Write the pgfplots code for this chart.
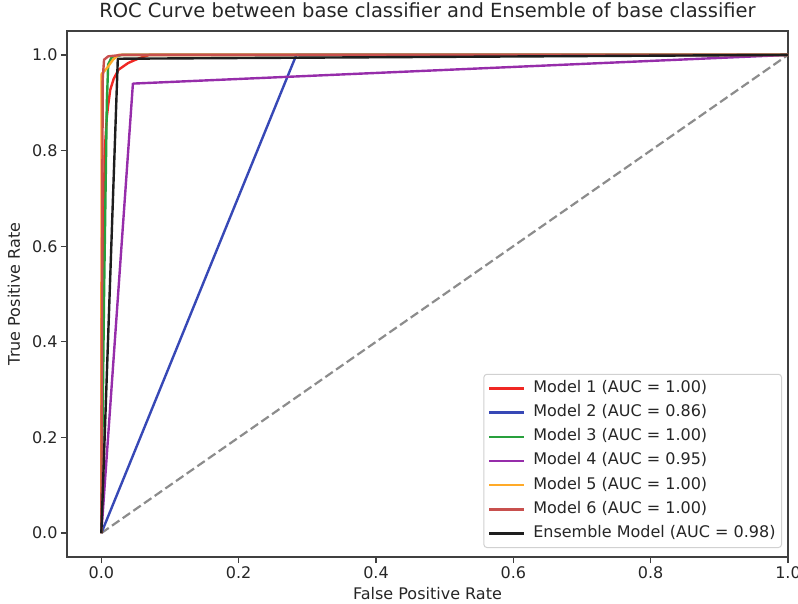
\documentclass[border=0pt]{standalone}
\usepackage{fontspec}
\setmainfont{DejaVu Sans}
\usepackage{pgfplots}
\pgfplotsset{compat=1.18}

\definecolor{mone}{RGB}{240,40,35}
\definecolor{mtwo}{RGB}{55,72,182}
\definecolor{mthree}{RGB}{40,160,60}
\definecolor{mfour}{RGB}{150,45,170}
\definecolor{mfive}{RGB}{255,170,40}
\definecolor{msix}{RGB}{200,80,78}
\definecolor{mens}{RGB}{30,30,30}

\begin{document}
\begin{tikzpicture}
\begin{axis}[
  scale only axis, width=721pt, height=526pt,
  xmin=-0.05, xmax=1.0, ymin=-0.05, ymax=1.05,
  xtick={0,0.2,0.4,0.6,0.8,1}, ytick={0,0.2,0.4,0.6,0.8,1},
  /pgf/number format/fixed, /pgf/number format/fixed zerofill,
  /pgf/number format/precision=1, /pgf/number format/assume math mode=true,
  tick align=outside, tick pos=left, major tick length=6pt,
  tick style={line width=1.3pt, color=black!75},
  axis line style={line width=1.5pt, black!75},
  tick label style={font=\fontsize{16}{19}\selectfont, text=black!85},
  title={ROC Curve between base classifier and Ensemble of base classifier},
  title style={font=\fontsize{19.5}{23}\selectfont, at={(axis description cs:0.5,1.0152)}, anchor=base, text=black!85},
  xlabel={False Positive Rate},
  ylabel={True Positive Rate},
  xlabel style={font=\fontsize{16}{19}\selectfont, at={(axis description cs:0.5,-0.0817)}, anchor=base, text=black!85},
  ylabel style={font=\fontsize{16}{19}\selectfont, at={(axis description cs:-0.0652,0.5)}, anchor=base, text=black!85},
  legend cell align=left,
  legend image code/.code={\draw[#1] (0pt,0pt) -- (35pt,0pt);},
  legend style={at={(axis description cs:1,0)}, anchor=south east, xshift=-6pt, yshift=9pt,
    draw=black!18, rounded corners=3pt, fill=white, line width=1pt,
    font=\fontsize{16}{19}\selectfont, text=black!85, inner xsep=4pt, inner ysep=4pt,
    row sep=4.2pt, nodes={text height=12pt, text depth=4pt, inner sep=2pt},
    /tikz/every odd column/.append style={column sep=6pt}},
  every axis plot/.append style={line width=2.4pt, line join=round},
]
% chance line
\addplot[forget plot, color=black!45, line width=2.2pt, dash pattern=on 9pt off 4pt] coordinates {(0,0) (1,1)};

\addplot[mone] coordinates {(0,0) (0.002,0.5) (0.005,0.8) (0.008,0.87) (0.010,0.895) (0.013,0.927) (0.018,0.95) (0.025,0.969) (0.039,0.983) (0.050,0.99) (0.061,0.996) (0.07,1.0) (1,1)};
\addlegendentry{Model 1 (AUC = 1.00)}
\addplot[mtwo] coordinates {(0,0) (0.284,1.0) (1,1)};
\addlegendentry{Model 2 (AUC = 0.86)}
\addplot[mthree] coordinates {(0,0) (0.004,0.5) (0.008,0.9) (0.010,0.98) (0.015,0.995) (0.03,1.0) (1,1)};
\addlegendentry{Model 3 (AUC = 1.00)}
\addplot[mfour] coordinates {(0,0) (0.046,0.94) (1,1)};
\addlegendentry{Model 4 (AUC = 0.95)}
\addplot[mfive] coordinates {(0,0) (0,0.3) (0.0005,0.96) (0.008,0.972) (0.017,0.99) (0.025,1.0) (1,1)};
\addlegendentry{Model 5 (AUC = 1.00)}
\addplot[msix] coordinates {(0,0) (0.001,0.5) (0.002,0.95) (0.004,0.99) (0.01,0.997) (0.03,1.0) (1,1)};
\addlegendentry{Model 6 (AUC = 1.00)}
\addplot[mens] coordinates {(0,0) (0.024,0.992) (1,1)};
\addlegendentry{Ensemble Model (AUC = 0.98)}
\end{axis}
\pgfresetboundingbox
\useasboundingbox ([xshift=-67pt,yshift=-46pt]current axis.south west) rectangle ([xshift=731pt,yshift=557pt]current axis.south west);
\end{tikzpicture}
\end{document}
